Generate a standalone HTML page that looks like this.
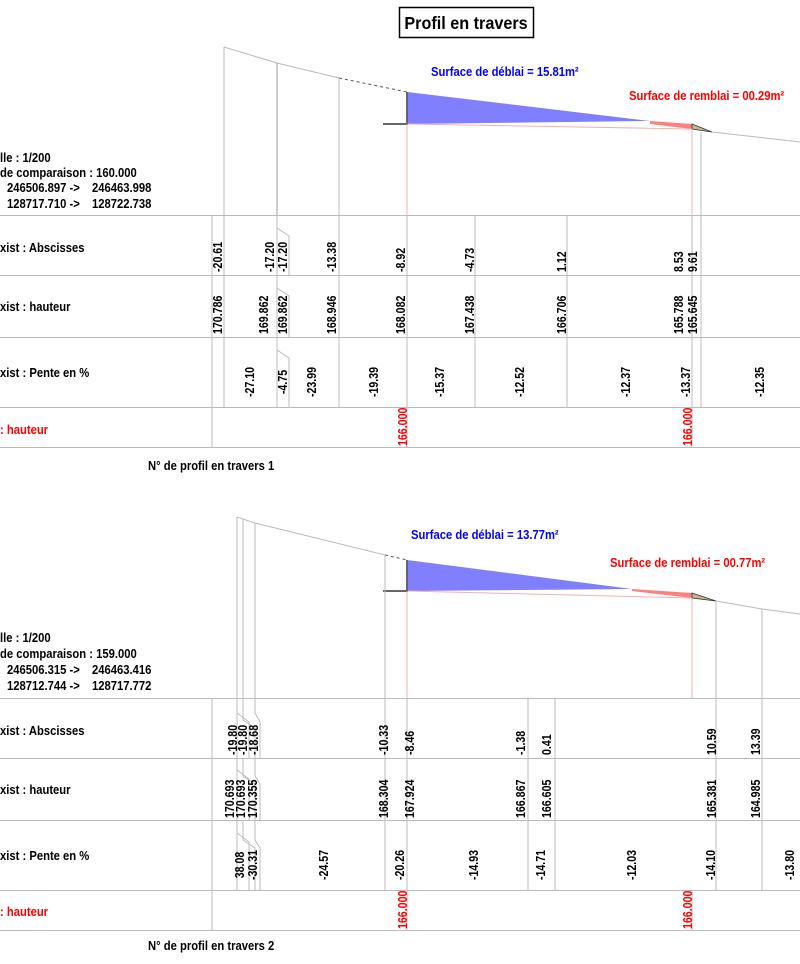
<!DOCTYPE html>
<html><head><meta charset="utf-8"><style>
body{margin:0;background:#fff}
svg{display:block}
text{font-family:"Liberation Sans",sans-serif;font-weight:bold;font-size:12.5px;fill:#000}
.r{fill:#f00}.b{fill:#00f}
.g{stroke:#bbb;stroke-width:1;fill:none}
.d{stroke:#999;stroke-width:1;fill:none}
.p{stroke:#f4b0b0;stroke-width:1;fill:none}
</style></head><body>
<svg width="800" height="964" viewBox="0 0 800 964" xmlns="http://www.w3.org/2000/svg">
<rect x="399.5" y="7.5" width="134" height="30" fill="none" stroke="#000" stroke-width="1.5"/>
<text transform="translate(466,29) scale(0.9,1)" text-anchor="middle" style="font-size:18px">Profil en travers</text>

<!-- SECTION 1 -->
<g>
<polyline class="g" points="224,47 277,63 339,78"/>
<line x1="339" y1="78" x2="407" y2="92" stroke="#555" stroke-dasharray="3,3"/>
<polygon points="407,92 650,121 407,124" fill="#7f7fff"/>
<polygon points="650,121 692,124 692,129 650,124" fill="#ff7f7f"/>
<polygon points="692,124 712,132 692,129" fill="#c8b890" stroke="#333" stroke-width="0.8"/>
<line x1="407" y1="124" x2="692" y2="129" stroke="#f4b0b0"/>
<line x1="712" y1="132" x2="800" y2="142" stroke="#bbb"/>
<polyline points="407,92 407,124 383,124" fill="none" stroke="#666" stroke-width="2"/>
<line class="g" x1="224" y1="47" x2="224" y2="215"/>
<line class="d" x1="277" y1="63" x2="277" y2="215" stroke-width="1.5"/>
<line class="g" x1="339" y1="78" x2="339" y2="215"/>
<line class="p" x1="407" y1="124" x2="407" y2="215"/>
<line class="p" x1="692" y1="129" x2="692" y2="215"/>
<line class="g" x1="701" y1="132" x2="701" y2="215"/>
<text class="b" transform="translate(431,76) scale(0.9,1)">Surface de déblai = 15.81m²</text>
<text class="r" transform="translate(629,100) scale(0.9,1)">Surface de remblai = 00.29m²</text>
<text transform="translate(0,162) scale(0.9,1)">lle : 1/200</text>
<text transform="translate(0,177) scale(0.9,1)">de comparaison : 160.000</text>
<text transform="translate(7,192) scale(0.9,1)">246506.897 -&gt;</text><text transform="translate(92,192) scale(0.9,1)">246463.998</text>
<text transform="translate(7,208) scale(0.9,1)">128717.710 -&gt;</text><text transform="translate(92,208) scale(0.9,1)">128722.738</text>
<g class="g">
<line x1="0" y1="215.5" x2="800" y2="215.5"/><line x1="0" y1="275.5" x2="800" y2="275.5"/>
<line x1="0" y1="337.5" x2="800" y2="337.5"/><line x1="0" y1="407.5" x2="800" y2="407.5"/>
<line x1="0" y1="447.5" x2="800" y2="447.5"/>
<line x1="212" y1="215" x2="212" y2="447"/>
<line x1="224" y1="215" x2="224" y2="407"/>
<line x1="277" y1="215" x2="277" y2="407"/>
<polyline points="277,228 289,236 289,275"/><polyline points="277,288 289,296 289,337"/><polyline points="277,350 289,358 289,407"/>
<line x1="339" y1="215" x2="339" y2="407"/>
<line x1="407" y1="215" x2="407" y2="407"/>
<line x1="475" y1="215" x2="475" y2="407"/>
<line x1="567" y1="215" x2="567" y2="407"/>
<line x1="692" y1="215" x2="692" y2="447"/>
<line x1="701" y1="215" x2="701" y2="407"/>
</g>
<line class="p" x1="407" y1="407" x2="407" y2="447"/>
<text transform="translate(0,252) scale(0.9,1)">xist : Abscisses</text>
<text transform="translate(0,311) scale(0.9,1)">xist : hauteur</text>
<text transform="translate(0,377) scale(0.9,1)">xist : Pente en %</text>
<text class="r" transform="translate(0,434) scale(0.9,1)">: hauteur</text>
<g>
<text transform="translate(222,272) rotate(-90) scale(0.85,1)">-20.61</text>
<text transform="translate(274,272) rotate(-90) scale(0.85,1)">-17.20</text>
<text transform="translate(287,272) rotate(-90) scale(0.85,1)">-17.20</text>
<text transform="translate(336,272) rotate(-90) scale(0.85,1)">-13.38</text>
<text transform="translate(405,272) rotate(-90) scale(0.85,1)">-8.92</text>
<text transform="translate(474,272) rotate(-90) scale(0.85,1)">-4.73</text>
<text transform="translate(566,272) rotate(-90) scale(0.85,1)">1.12</text>
<text transform="translate(683,272) rotate(-90) scale(0.85,1)">8.53</text>
<text transform="translate(697,272) rotate(-90) scale(0.85,1)">9.61</text>
</g>
<g>
<text transform="translate(222,334) rotate(-90) scale(0.85,1)">170.786</text>
<text transform="translate(268,334) rotate(-90) scale(0.85,1)">169.862</text>
<text transform="translate(287,334) rotate(-90) scale(0.85,1)">169.862</text>
<text transform="translate(336,334) rotate(-90) scale(0.85,1)">168.946</text>
<text transform="translate(405,334) rotate(-90) scale(0.85,1)">168.082</text>
<text transform="translate(474,334) rotate(-90) scale(0.85,1)">167.438</text>
<text transform="translate(566,334) rotate(-90) scale(0.85,1)">166.706</text>
<text transform="translate(683,334) rotate(-90) scale(0.85,1)">165.788</text>
<text transform="translate(697,334) rotate(-90) scale(0.85,1)">165.645</text>
</g>
<g text-anchor="middle">
<text transform="translate(254,382) rotate(-90) scale(0.85,1)">-27.10</text>
<text transform="translate(287,382) rotate(-90) scale(0.85,1)">-4.75</text>
<text transform="translate(316,382) rotate(-90) scale(0.85,1)">-23.99</text>
<text transform="translate(378,382) rotate(-90) scale(0.85,1)">-19.39</text>
<text transform="translate(444,382) rotate(-90) scale(0.85,1)">-15.37</text>
<text transform="translate(524,382) rotate(-90) scale(0.85,1)">-12.52</text>
<text transform="translate(630,382) rotate(-90) scale(0.85,1)">-12.37</text>
<text transform="translate(690,382) rotate(-90) scale(0.85,1)">-13.37</text>
<text transform="translate(764,382) rotate(-90) scale(0.85,1)">-12.35</text>
</g>
<text class="r" transform="translate(407,446) rotate(-90) scale(0.85,1)">166.000</text>
<text class="r" transform="translate(692,446) rotate(-90) scale(0.85,1)">166.000</text>
<text transform="translate(148,470) scale(0.9,1)">N° de profil en travers 1</text>
</g>

<!-- SECTION 2 -->
<g>
<polyline class="g" points="237,517 255,523 385,555"/>
<line x1="385" y1="555" x2="407" y2="560" stroke="#555" stroke-dasharray="3,3"/>
<polygon points="407,560 632,589 407,591" fill="#7f7fff"/>
<polygon points="632,589 692,593 692,598 632,591" fill="#ff7f7f"/>
<polygon points="692,593 716,601 692,598" fill="#c8b890" stroke="#333" stroke-width="0.8"/>
<line x1="407" y1="591" x2="692" y2="598" stroke="#f4b0b0"/>
<polyline class="g" points="716,601 762,609 800,614"/>
<polyline points="407,560 407,591 383,591" fill="none" stroke="#666" stroke-width="2"/>
<line class="g" x1="237" y1="517" x2="237" y2="698"/>
<line class="g" x1="243" y1="519" x2="243" y2="698"/>
<line class="g" x1="255" y1="523" x2="255" y2="698"/>
<line class="g" x1="385" y1="555" x2="385" y2="698"/>
<line class="p" x1="407" y1="591" x2="407" y2="698"/>
<line class="p" x1="692" y1="598" x2="692" y2="698"/>
<line class="g" x1="716" y1="601" x2="716" y2="698"/>
<line class="g" x1="762" y1="609" x2="762" y2="698"/>
<text class="b" transform="translate(411,539) scale(0.9,1)">Surface de déblai = 13.77m²</text>
<text class="r" transform="translate(610,567) scale(0.9,1)">Surface de remblai = 00.77m²</text>
<text transform="translate(0,642) scale(0.9,1)">lle : 1/200</text>
<text transform="translate(0,658) scale(0.9,1)">de comparaison : 159.000</text>
<text transform="translate(7,674) scale(0.9,1)">246506.315 -&gt;</text><text transform="translate(92,674) scale(0.9,1)">246463.416</text>
<text transform="translate(7,690) scale(0.9,1)">128712.744 -&gt;</text><text transform="translate(92,690) scale(0.9,1)">128717.772</text>
<g class="g">
<line x1="0" y1="698.5" x2="800" y2="698.5"/><line x1="0" y1="758.5" x2="800" y2="758.5"/>
<line x1="0" y1="820.5" x2="800" y2="820.5"/><line x1="0" y1="890.5" x2="800" y2="890.5"/>
<line x1="0" y1="930.5" x2="800" y2="930.5"/>
<line x1="212" y1="698" x2="212" y2="930"/>
<line x1="237" y1="698" x2="237" y2="890"/>
<polyline points="237,713 249,722 249,758"/><polyline points="237,770 249,779 249,820"/><polyline points="237,833 249,842 249,890"/>
<polyline points="243,698 243,720 255,728 255,758"/><polyline points="243,758 243,776 255,784 255,820"/><polyline points="243,820 243,840 255,848 255,890"/>
<polyline points="255,698 255,713 260,722 260,758"/><polyline points="255,758 255,776 260,784 260,820"/><polyline points="255,820 255,840 260,848 260,890"/>
<line x1="385" y1="698" x2="385" y2="890"/>
<line x1="407" y1="698" x2="407" y2="890"/>
<line x1="528" y1="698" x2="528" y2="890"/>
<line x1="555" y1="698" x2="555" y2="890"/>
<line x1="692" y1="890" x2="692" y2="930"/>
<line x1="716" y1="698" x2="716" y2="890"/>
<line x1="762" y1="698" x2="762" y2="890"/>
</g>
<line class="p" x1="407" y1="890" x2="407" y2="930"/>
<text transform="translate(0,735) scale(0.9,1)">xist : Abscisses</text>
<text transform="translate(0,794) scale(0.9,1)">xist : hauteur</text>
<text transform="translate(0,860) scale(0.9,1)">xist : Pente en %</text>
<text class="r" transform="translate(0,916) scale(0.9,1)">: hauteur</text>
<g>
<text transform="translate(237,755) rotate(-90) scale(0.85,1)">-19.80</text>
<text transform="translate(247,755) rotate(-90) scale(0.85,1)">-19.80</text>
<text transform="translate(258,755) rotate(-90) scale(0.85,1)">-18.68</text>
<text transform="translate(388,755) rotate(-90) scale(0.85,1)">-10.33</text>
<text transform="translate(414,755) rotate(-90) scale(0.85,1)">-8.46</text>
<text transform="translate(525,755) rotate(-90) scale(0.85,1)">-1.38</text>
<text transform="translate(551,755) rotate(-90) scale(0.85,1)">0.41</text>
<text transform="translate(716,755) rotate(-90) scale(0.85,1)">10.59</text>
<text transform="translate(760,755) rotate(-90) scale(0.85,1)">13.39</text>
</g>
<g>
<text transform="translate(234,818) rotate(-90) scale(0.85,1)">170.693</text>
<text transform="translate(245,818) rotate(-90) scale(0.85,1)">170.693</text>
<text transform="translate(257,818) rotate(-90) scale(0.85,1)">170.355</text>
<text transform="translate(388,818) rotate(-90) scale(0.85,1)">168.304</text>
<text transform="translate(414,818) rotate(-90) scale(0.85,1)">167.924</text>
<text transform="translate(525,818) rotate(-90) scale(0.85,1)">166.867</text>
<text transform="translate(551,818) rotate(-90) scale(0.85,1)">166.605</text>
<text transform="translate(716,818) rotate(-90) scale(0.85,1)">165.381</text>
<text transform="translate(760,818) rotate(-90) scale(0.85,1)">164.985</text>
</g>
<g text-anchor="middle">
<text transform="translate(244,865) rotate(-90) scale(0.85,1)">38.08</text>
<text transform="translate(257,865) rotate(-90) scale(0.85,1)">-30.31</text>
<text transform="translate(328,865) rotate(-90) scale(0.85,1)">-24.57</text>
<text transform="translate(404,865) rotate(-90) scale(0.85,1)">-20.26</text>
<text transform="translate(478,865) rotate(-90) scale(0.85,1)">-14.93</text>
<text transform="translate(545,865) rotate(-90) scale(0.85,1)">-14.71</text>
<text transform="translate(636,865) rotate(-90) scale(0.85,1)">-12.03</text>
<text transform="translate(715,865) rotate(-90) scale(0.85,1)">-14.10</text>
<text transform="translate(794,865) rotate(-90) scale(0.85,1)">-13.80</text>
</g>
<text class="r" transform="translate(407,929) rotate(-90) scale(0.85,1)">166.000</text>
<text class="r" transform="translate(692,929) rotate(-90) scale(0.85,1)">166.000</text>
<text transform="translate(148,950) scale(0.9,1)">N° de profil en travers 2</text>
</g>
</svg>
</body></html>
